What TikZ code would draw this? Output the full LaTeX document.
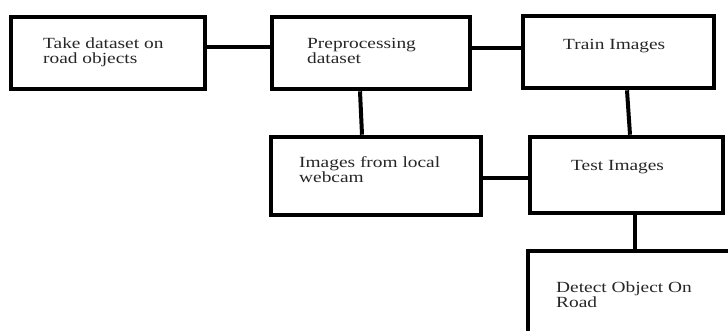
\documentclass[tikz,border=0pt]{standalone}
\usepackage{fontspec}
\setmainfont[FakeStretch=1.25]{Liberation Serif}
\begin{document}
\begin{tikzpicture}[x=1pt,y=-1pt,
  box/.style={draw=black,line width=4.6pt,inner sep=0pt,minimum width=#1},
  link/.style={draw=black,line width=4pt},
  lbl/.style={anchor=base west,inner sep=0pt,align=left,text=black!85,
    font=\fontsize{15.5}{14.5}\selectfont}]
\useasboundingbox (0,0) rectangle (728,330);
\clip (0,0) rectangle (728,330);

% boxes
\node[box=194pt,minimum height=72pt] (take)  at (108,53)   {};
\node[box=198pt,minimum height=72pt] (prep)  at (371,53)   {};
\node[box=191pt,minimum height=72pt] (train) at (618.5,52) {};
\node[box=210pt,minimum height=78pt] (cam)   at (376,176)  {};
\node[box=193pt,minimum height=76pt] (test)  at (626.5,175){};
\node[box=232pt,minimum height=109pt] (detect) at (644,305.5) {};

% labels (base anchor sits on the last line of a two-line label)
\node[lbl] (takeT)  at (43,63)  {Take dataset on\\road objects};
\node[lbl] (prepT)  at (307,63) {Preprocessing\\dataset};
\node[lbl] (trainT) at (563,49) {Train Images};
\node[lbl] (camT)   at (299,182) {Images from local\\webcam};
\node[lbl] (testT)  at (571,170) {Test Images};
\node[lbl] (detT)   at (556,307) {Detect Object On\\Road};

% connectors
\draw[link] ([yshift=6pt]take.east) -- ([yshift=6pt]prep.west);
\draw[link] ([yshift=5pt]prep.east) -- ([yshift=4pt]train.west);
\draw[link] ([xshift=-11pt]prep.south) -- ([xshift=-14pt]cam.north);
\draw[link] ([xshift=8.5pt]train.south) -- ([xshift=3.5pt]test.north);
\draw[link] ([yshift=-2pt]cam.east) -- ([yshift=-3pt]test.west);
\draw[link] ([xshift=8.5pt]test.south) -- ([xshift=-9pt]detect.north);
\end{tikzpicture}
\end{document}
